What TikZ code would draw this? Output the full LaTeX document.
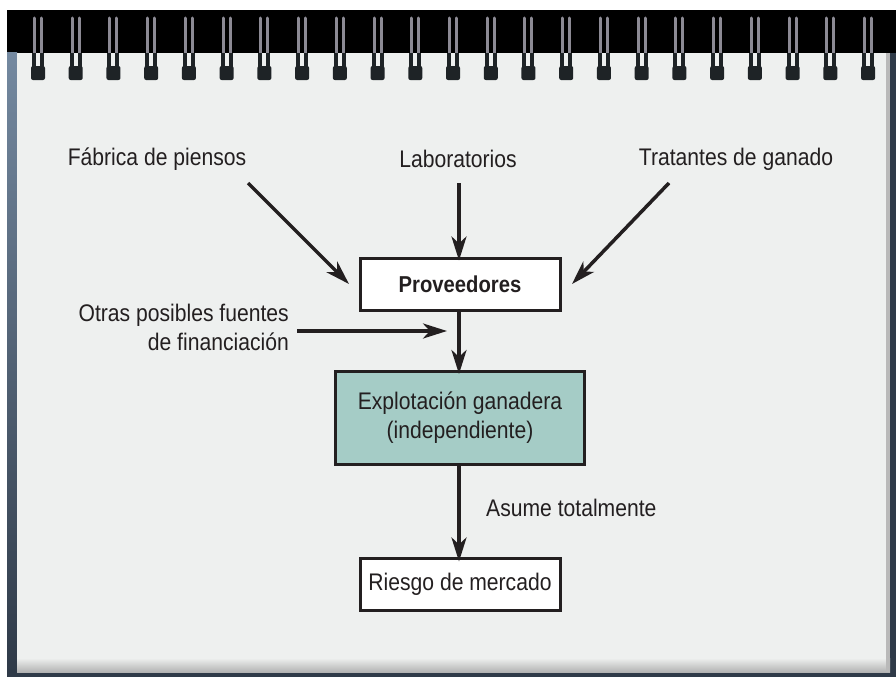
\documentclass[tikz,border=0pt]{standalone}
\usepackage{fontspec}
\setmainfont{Liberation Sans}[FakeStretch=0.88]
\usetikzlibrary{arrows.meta}
\definecolor{pagebg}{HTML}{EEF0EF}
\definecolor{frame}{HTML}{2F3A48}
\definecolor{edgeblue}{HTML}{7489A0}
\definecolor{ink}{HTML}{231F20}
\definecolor{teal}{HTML}{A5CCC6}
\definecolor{ringgray}{HTML}{8C8A94}
\definecolor{ringdark}{HTML}{1E2326}
\tikzset{
  txt/.style={font=\fontsize{24}{29}\selectfont, text=ink, inner sep=0pt},
  boxw/.style={draw=ink, line width=3pt, fill=white, minimum width=200pt, minimum height=52pt, font=\fontsize{24}{29}\selectfont, text=ink},
  boxt/.style={draw=ink, line width=3pt, fill=teal, minimum width=249pt, minimum height=93pt, align=center, font=\fontsize{24}{29}\selectfont, text=ink},
  arr/.style={draw=ink, line width=3.5pt, -{Stealth[length=24pt,width=15pt,inset=7pt]}},
}
\begin{document}
\begin{tikzpicture}[x=1pt,y=-1pt]
\useasboundingbox (0,0) rectangle (896,677);
% frame and page
\fill[white] (0,0) rectangle (896,677);
\fill[frame] (7,10) rectangle (896,677);
\fill[black] (7,10) rectangle (896,53);
\shade[top color=edgeblue, bottom color=frame] (7,53) rectangle (17,672);
\fill[pagebg] (17,53) rectangle (890,660);
\shade[top color=pagebg, bottom color=gray!60] (17,658) rectangle (890,672);
\fill[gray!55] (886,53) rectangle (890,672);
% spiral rings
\foreach \i in {0,...,22}{
  \pgfmathsetmacro{\cx}{38+37.73*\i}
  \draw[ringgray, line width=3pt, line cap=round] (\cx-3.5,18) -- (\cx-3.5,56);
  \draw[ringgray, line width=3pt, line cap=round] (\cx+3.5,18) -- (\cx+3.5,56);
  \fill[ringdark] (\cx-6,53) rectangle (\cx-2,72);
  \fill[ringdark] (\cx+2,53) rectangle (\cx+6,72);
  \fill[ringdark, rounded corners=2pt] (\cx-7,66) rectangle (\cx+7,80);
}
% texts
\node[txt] (fab) at (157,159) {Fábrica de piensos};
\node[txt] (lab) at (458,159) {Laboratorios};
\node[txt] (tra) at (736,159) {Tratantes de ganado};
\node[txt, align=right, anchor=east] (otr) at (289,327) {Otras posibles fuentes\\de financiación};
\node[txt, anchor=west] (asu) at (486,508) {Asume totalmente};
% boxes
\node[boxw, font=\fontsize{23}{28}\selectfont\bfseries] (prov) at (460,284) {Proveedores};
\node[boxt] (expl) at (460,418) {Explotación ganadera\\(independiente)};
\node[boxw] (ries) at (460,584) {Riesgo de mercado};
% arrow coordinates
\coordinate (fabS) at (248,183);
\coordinate (fabE) at (349,284);
\coordinate (labS) at (459,183);
\coordinate (traS) at (669,183);
\coordinate (traE) at (572,284);
\coordinate (otrS) at (297,331);
\coordinate (otrE) at (447,331);
% arrows
\draw[arr] (fabS) -- (fabE);
\draw[arr] (labS) -- ([yshift=-4pt]labS |- prov.north);
\draw[arr] (traS) -- (traE);
\draw[arr] (otrS) -- (otrE);
\draw[arr] ([xshift=-1pt]prov.south) -- ([xshift=-1pt,yshift=-4pt]expl.north);
\draw[arr] ([xshift=-1pt]expl.south) -- ([xshift=-1pt,yshift=-5pt]ries.north);
\end{tikzpicture}
\end{document}
